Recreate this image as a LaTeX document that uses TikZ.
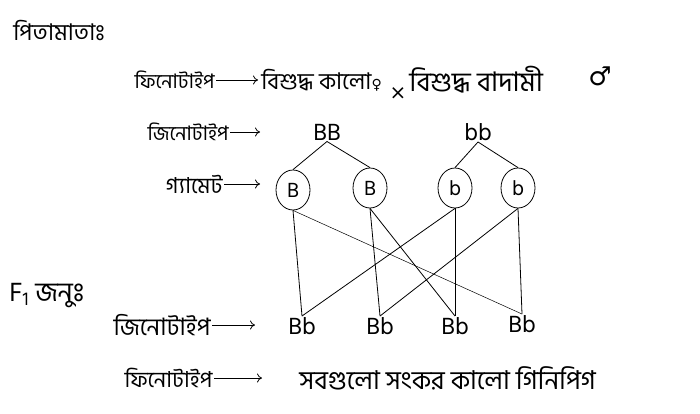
\documentclass[tikz,border=0pt]{standalone}
\usepackage{fontspec}
\newfontfamily\bnfont[Script=Bengali]{Hind Siliguri}
\newfontfamily\symfont{DejaVu Sans}
\usetikzlibrary{arrows.meta,shapes.geometric}
\tikzset{
  lbl/.style={font=\bnfont\fontsize{20}{22}\selectfont, inner sep=1pt},
  big/.style={font=\bnfont\fontsize{23}{25}\selectfont, inner sep=1pt},
  allele/.style={font=\bnfont\fontsize{24}{26}\selectfont, inner sep=1pt},
  gamete/.style={draw, ellipse, minimum width=34pt, minimum height=40pt,
    inner sep=0pt, font=\bnfont\fontsize{21}{23}\selectfont},
  pointer/.style={-{To[length=5pt,width=9pt]}, line width=0.8pt},
  link/.style={line width=0.8pt}
}

\begin{document}
\begin{tikzpicture}[x=1pt,y=-1pt,line width=0.8pt]
\useasboundingbox (0,0) rectangle (700,413);
% parents
\node[big,anchor=west] (parents) at (12,30) {পিতামাতাঃ};
\node[lbl,anchor=east] (pheno1) at (216,80) {ফিনোটাইপ};
\coordinate (pheno1end) at (258,80);
\draw[pointer] (pheno1) -- (pheno1end);
\node[big,anchor=west] (female) at (260,80) {বিশুদ্ধ কালো{\symfont\fontsize{14}{16}\selectfont ♀}};
\node[font=\symfont\fontsize{20}{22}\selectfont] (cross) at (398,94) {×};
\node[big,anchor=west,font=\bnfont\fontsize{27}{29}\selectfont] (male) at (408,80) {বিশুদ্ধ বাদামী};
\node[font=\symfont\fontsize{26}{28}\selectfont] (malesym) at (600,76) {♂};

\node[lbl,anchor=east] (geno1) at (230,132) {জিনোটাইপ};
\coordinate (geno1end) at (260,132);
\draw[pointer] (geno1) -- (geno1end);
\node[allele] (BB) at (327,132) {BB};
\node[allele] (bb) at (478,132) {bb};

% gametes
\node[lbl,anchor=east,font=\bnfont\fontsize{22}{24}\selectfont] (gam) at (224,184) {গ্যামেট};
\coordinate (gamend) at (260,184);
\draw[pointer] (gam) -- (gamend);
\node[gamete] (g1) at (293,190) {B};
\node[gamete] (g2) at (370,188) {B};
\node[gamete] (g3) at (455,188) {b};
\node[gamete] (g4) at (518,188) {b};
\draw[link] (BB.south) -- (g1.north) (BB.south) -- (g2.north);
\draw[link] (bb.south) -- (g3.north) (bb.south) -- (g4.north);

% F1
\node[big,anchor=west,font=\bnfont\fontsize{27}{29}\selectfont] (fone) at (8,296) {F\textsubscript{1} জনুঃ};
\node[lbl,anchor=east,font=\bnfont\fontsize{24}{26}\selectfont] (geno2) at (212,325) {জিনোটাইপ};
\coordinate (geno2end) at (255,325);
\draw[pointer] (geno2) -- (geno2end);
\node[allele] (f1) at (302,326) {Bb};
\node[allele] (f2) at (380,326) {Bb};
\node[allele] (f3) at (455,326) {Bb};
\node[allele] (f4) at (522,324) {Bb};

\draw[link] (g1.south) -- (f1.north);
\draw[link, line width=0.5pt] (g1.south) -- (f4.north);
\draw[link] (g2.south) -- (f2.north);
\draw[link] (g2.south) -- (f3.north);
\draw[link] (g3.south) -- (f3.north);
\draw[link] (g3.south) -- (f1.north);
\draw[link] (g4.south) -- (f4.north);
\draw[link] (g4.south) -- (f2.north);

\node[lbl,anchor=east,font=\bnfont\fontsize{22}{24}\selectfont] (pheno2) at (214,378) {ফিনোটাইপ};
\coordinate (pheno2end) at (262,378);
\draw[pointer] (pheno2) -- (pheno2end);
\node[big,anchor=west,font=\bnfont\fontsize{26}{28}\selectfont] (result) at (298,378) {সবগুলো সংকর কালো গিনিপিগ};
\end{tikzpicture}
\end{document}
